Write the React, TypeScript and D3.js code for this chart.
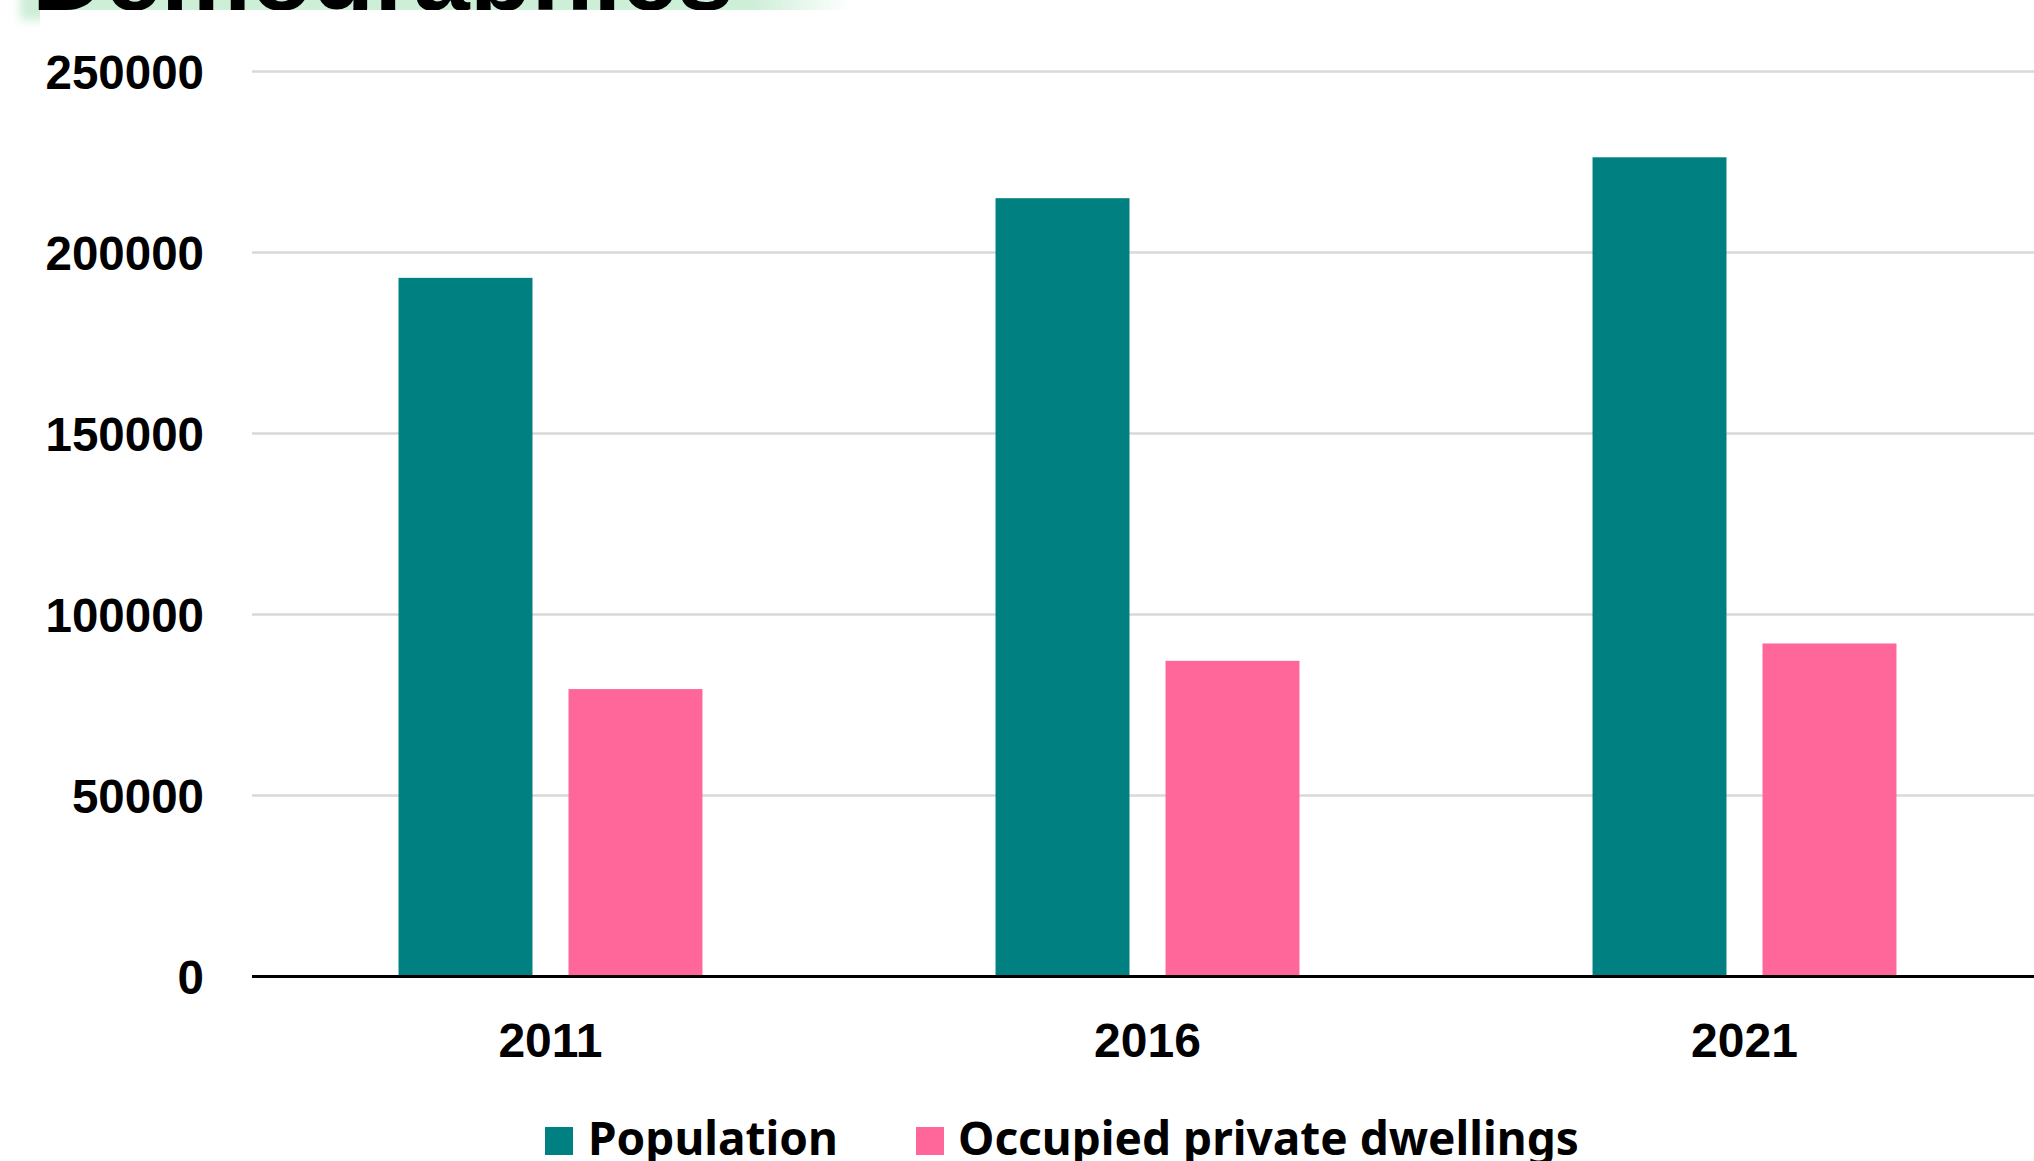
import React from 'react';
import * as d3 from 'd3';

// census values
const years = ['2011', '2016', '2021'];
const population = [193000, 215000, 226300];
const dwellings = [79400, 87200, 92000];
const yTicks = [0, 50000, 100000, 150000, 200000, 250000];
const seriesNames = ['Population', 'Occupied private dwellings'];
const seriesColors = ['#008080', '#ff6699'];

const W = 2034;
const H = 1161;
const plotLeft = 252;
const plotRight = 2043;
const plotTop = 71.5;
const plotBottom = 976.5;

const labelFont = '"Liberation Sans", Arial, sans-serif';

const App = () => {
  const x0 = d3.scaleBand<string>().domain(years).range([plotLeft, plotRight]);
  const x1 = d3
    .scaleBand<string>()
    .domain(seriesNames)
    .range([0, x0.bandwidth()])
    .paddingInner(0.212)
    .paddingOuter(0.862);
  const y = d3.scaleLinear().domain([0, 250000]).range([plotBottom, plotTop]);

  const rows = years.map((yr, i) => ({ year: yr, values: [population[i], dwellings[i]] }));

  return (
    <svg
      width={W}
      height={H}
      style={{ position: 'absolute', left: 0, top: 0, background: '#fff' }}
    >
      <defs>
        <linearGradient id="glowGrad" x1="0" x2="1" y1="0" y2="0">
          <stop offset="0" stopColor="#cdeed7" />
          <stop offset="0.88" stopColor="#cdeed7" />
          <stop offset="1" stopColor="#cdeed7" stopOpacity="0" />
        </linearGradient>
        <filter id="blur" x="-10%" y="-50%" width="120%" height="200%">
          <feGaussianBlur stdDeviation="5" />
        </filter>
      </defs>

      {/* title box, mostly cut off by the top edge */}
      <rect x={20} y={-80} width={830} height={100} fill="url(#glowGrad)" filter="url(#blur)" />
      <text x={32} y={10} fontFamily={labelFont} fontWeight={700} fontSize={101} fill="#000">
        Demographics
      </text>
      <rect x={40} y={10} width={W} height={H} fill="#fff" />

      {/* grid */}
      {yTicks.filter((t) => t > 0).map((t) => (
        <line key={t} x1={plotLeft} x2={W} y1={y(t)} y2={y(t)} stroke="#d9d9d9" strokeWidth={2.5} />
      ))}

      {/* y labels */}
      {yTicks.map((t) => (
        <text
          key={'l' + t}
          x={204}
          y={y(t)}
          dy="0.36em"
          textAnchor="end"
          fontFamily={labelFont}
          fontWeight={700}
          fontSize={47.5}
          fill="#000"
        >
          {t}
        </text>
      ))}

      {/* bars */}
      {rows.map((r) => (
        <g key={r.year} transform={`translate(${x0(r.year)},0)`}>
          {r.values.map((v, j) => (
            <rect
              key={j}
              x={x1(seriesNames[j])}
              y={y(v)}
              width={x1.bandwidth()}
              height={y(0) - y(v)}
              fill={seriesColors[j]}
            />
          ))}
          <text
            x={x0.bandwidth() / 2}
            y={1057}
            textAnchor="middle"
            fontFamily={labelFont}
            fontWeight={700}
            fontSize={48}
            fill="#000"
          >
            {r.year}
          </text>
        </g>
      ))}

      {/* zero axis */}
      <line x1={plotLeft} x2={W} y1={y(0)} y2={y(0)} stroke="#000" strokeWidth={3} />

      {/* legend */}
      <g fontFamily='"Noto Sans", sans-serif' fontWeight={700} fontSize={46} fill="#000">
        <rect x={545} y={1127} width={28} height={28} fill={seriesColors[0]} />
        <text x={588} y={1155}>{seriesNames[0]}</text>
        <rect x={916} y={1127} width={28} height={28} fill={seriesColors[1]} />
        <text x={958} y={1155}>{seriesNames[1]}</text>
      </g>
    </svg>
  );
};

export default App;
